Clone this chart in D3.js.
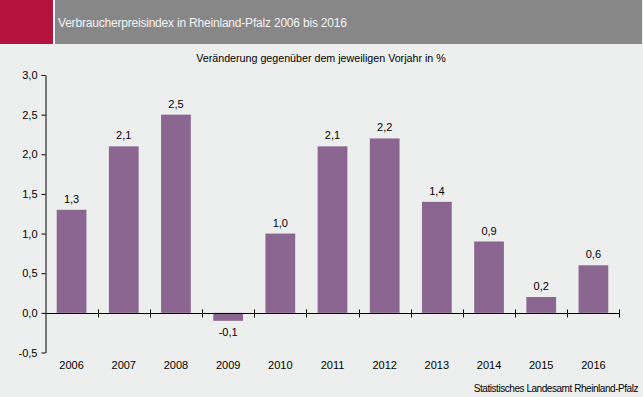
<!DOCTYPE html>
<html><head><meta charset="utf-8">
<script src="https://cdn.jsdelivr.net/npm/d3@7"></script>
<style>body{margin:0;background:#edefee;}svg{display:block;}</style>
</head><body>
<script>
const years = ["2006","2007","2008","2009","2010","2011","2012","2013","2014","2015","2016"];
const values = [1.3,2.1,2.5,-0.1,1.0,2.1,2.2,1.4,0.9,0.2,0.6];
const yTicks = [-0.5,0,0.5,1.0,1.5,2.0,2.5,3.0];
const title = "Verbraucherpreisindex  in Rheinland-Pfalz 2006 bis 2016";
const subtitle = "Veränderung gegenüber dem jeweiligen Vorjahr in %";
const source = "Statistisches Landesamt Rheinland-Pfalz";

const W = 643, H = 397;
const font = "Liberation Sans, Arial, sans-serif";
const fmt = v => d3.format(".1f")(v).replace(".", ",").replace("\u2212", "-");
const svg = d3.select("body").append("svg").attr("width", W).attr("height", H);
svg.append("rect").attr("width", W).attr("height", H).attr("fill", "#edefee");
svg.append("rect").attr("x",0).attr("y",0).attr("width",53).attr("height",44).attr("fill","#b5123e");
svg.append("rect").attr("x",53).attr("y",0).attr("width",2).attr("height",44).attr("fill","#ffffff");
svg.append("rect").attr("x",55).attr("y",0).attr("width",587).attr("height",44).attr("fill","#878787");
svg.append("text").attr("x",58).attr("y",27).attr("fill","#f4f4f4").attr("font-family",font).attr("font-size",12).attr("letter-spacing",-0.2).text(title);
svg.append("text").attr("x",321).attr("y",62).attr("text-anchor","middle").attr("fill","#000").attr("font-family",font).attr("font-size",10.7).text(subtitle);

const x = d3.scaleBand().domain(years).range([45.5, 619.5]).paddingInner(0.43).paddingOuter(0.215);
const y = d3.scaleLinear().domain([-0.5, 3.0]).range([352.5, 75]);

svg.append("g").selectAll("rect").data(values).join("rect")
  .attr("x", (d,i) => x(years[i]))
  .attr("width", x.bandwidth())
  .attr("y", d => y(Math.max(0,d)))
  .attr("height", d => Math.abs(y(d) - y(0)))
  .attr("fill", "#8a6690");

svg.append("g").selectAll("text").data(values).join("text")
  .attr("x", (d,i) => x(years[i]) + x.bandwidth()/2)
  .attr("y", d => d >= 0 ? y(d) - 7 : y(d) + 15)
  .attr("text-anchor","middle").attr("font-family",font).attr("font-size",11).attr("fill","#000")
  .text(d => fmt(d));

// y axis
const yAxis = svg.append("g").attr("transform","translate(45.5,0)")
  .call(d3.axisLeft(y).tickValues(yTicks).tickFormat(fmt).tickSize(4).tickSizeOuter(0));
yAxis.select(".domain").attr("stroke","#000");
yAxis.selectAll("text").attr("font-family",font).attr("font-size",11).attr("fill","#000").attr("x",-8);

// x axis line at zero with ticks between categories
const xg = svg.append("g").attr("transform",`translate(0,${Math.round(y(0))+0.5})`);
xg.append("line").attr("x1",45.5).attr("x2",619.5).attr("stroke","#000");
const step = x.step();
const bounds = years.map((d,i) => x(d) - x.paddingInner()*step/2 + step);
xg.selectAll("line.t").data(bounds).join("line").attr("class","t")
  .attr("x1", d => Math.round(d)+0.5).attr("x2", d => Math.round(d)+0.5)
  .attr("y1",-4).attr("y2",4).attr("stroke","#000");

svg.append("g").selectAll("text").data(years).join("text")
  .attr("x", d => x(d) + x.bandwidth()/2).attr("y", 369)
  .attr("text-anchor","middle").attr("font-family",font).attr("font-size",11).attr("fill","#000")
  .text(d => d);

svg.append("text").attr("x",638).attr("y",392).attr("text-anchor","end").attr("font-family",font).attr("font-size",10).attr("fill","#000").attr("letter-spacing",-0.45).text(source);
</script>
</body></html>
